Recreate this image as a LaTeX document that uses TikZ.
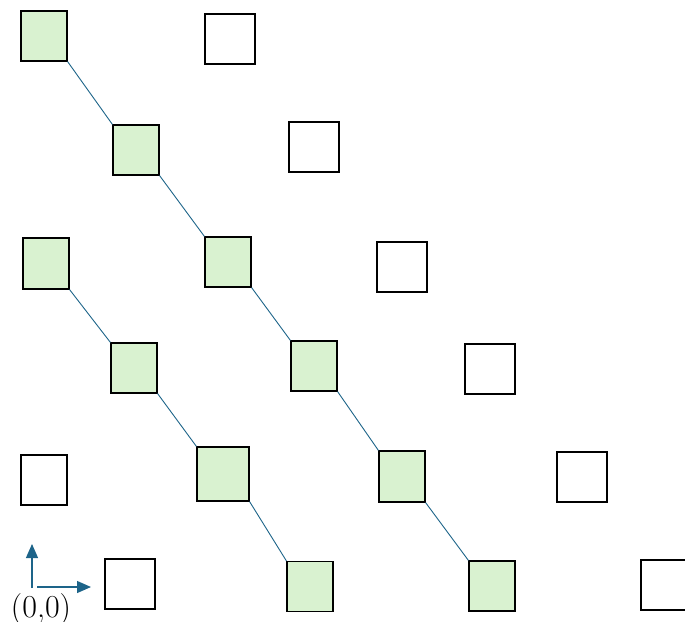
\documentclass[tikz,border=0pt]{standalone}
\usetikzlibrary{arrows.meta}
\definecolor{tealline}{HTML}{1D6489}
\definecolor{lightgreen}{HTML}{D9F2D0}
\begin{document}
\begin{tikzpicture}[x=1pt,y=-1pt,
  box/.style={draw=black,line width=1.2pt,inner sep=0pt,minimum width=#1,minimum height=50pt},
  box/.default=46pt,
  gsq/.style={box,fill=lightgreen},
  wsq/.style={box=50pt,fill=white},
  link/.style={draw=tealline,line width=0.9pt},
  axis/.style={draw=tealline,line width=1.2pt,-{Triangle[width=12pt,length=14pt]}}]
\useasboundingbox (0,0) rectangle (685,621);
\clip (0,0) rectangle (685,621);
% first chain of green squares
\node[gsq] (g1) at (44,36) {};
\node[gsq] (g2) at (136,150) {};
\node[gsq] (g3) at (228,262) {};
\node[gsq] (g4) at (314,366) {};
\node[gsq,minimum height=51pt] (g5) at (402,476.5) {};
\node[gsq] (g6) at (492,586) {};
% second chain of green squares
\node[gsq,minimum height=51pt] (h1) at (46,263.5) {};
\node[gsq] (h2) at (134,368) {};
\node[gsq=52pt,minimum width=52pt,minimum height=54pt] (h3) at (223,474) {};
\node[gsq] (h4) at (310,586.5) {};
% empty squares
\node[wsq] (w1) at (230,39) {};
\node[wsq] (w2) at (314,147) {};
\node[wsq] (w3) at (402,267) {};
\node[wsq] (w4) at (490,369) {};
\node[wsq] (w5) at (582,477) {};
\node[wsq] (w6) at (666,585) {};
\node[box] (w7) at (44,480) {};
\node[wsq] (w8) at (130,584) {};
% links along the chains
\foreach \a/\b in {g1/g2,g2/g3,g3/g4,g4/g5,g5/g6,h1/h2,h2/h3,h3/h4}
  \draw[link] (\a.south east) -- (\b.north west);
% origin marker
\coordinate (o) at (32,588);
\coordinate (oy) at (32,544);
\coordinate (ox0) at (37,587);
\coordinate (ox) at (91,587);
\draw[axis] (o) -- (oy);
\draw[axis] (ox0) -- (ox);
\node[anchor=base,inner sep=0pt,font=\fontsize{32}{38}\selectfont] (lbl) at (41,617) {(0,0)};
\end{tikzpicture}
\end{document}
